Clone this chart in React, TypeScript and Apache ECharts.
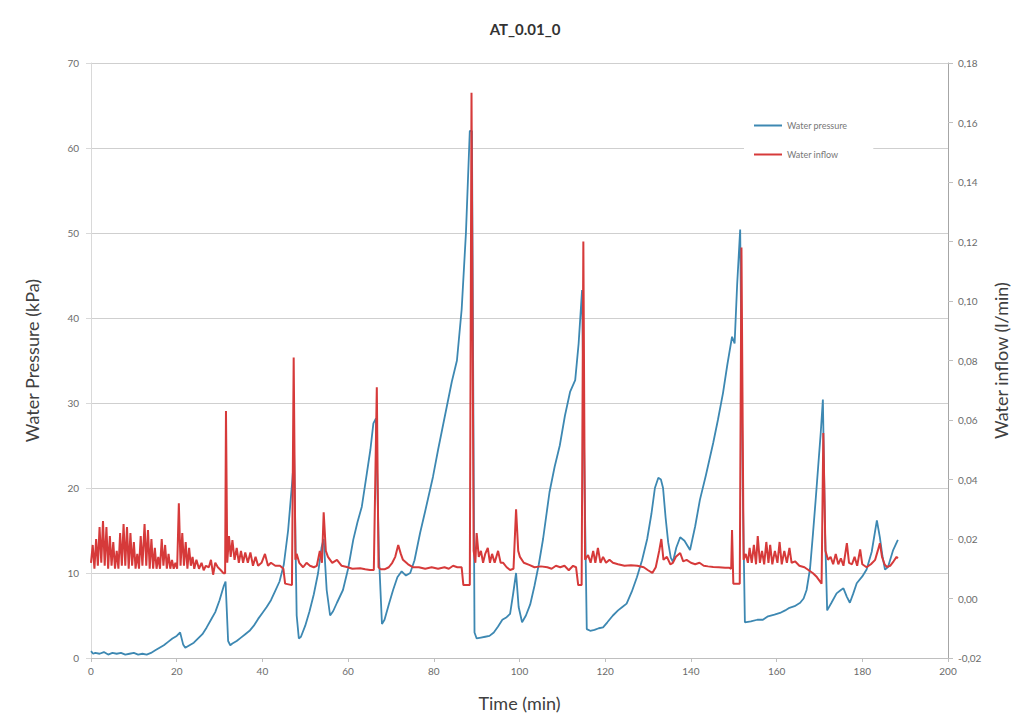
import React, { useEffect, useRef } from "react";
import * as echarts from "echarts";

const title = "AT_0.01_0";
const xTicks = { min: 0, max: 200, interval: 20 };
const seriesNames = ["Water pressure", "Water inflow"];

// Water pressure (kPa), left axis
const pressureTime = [
  0, 0.5, 1, 2, 3, 4, 5, 6, 7, 8, 9, 10, 11, 12, 13, 14, 15, 16, 17, 18, 19, 20, 20.8, 21.5, 22, 23, 24, 25, 26, 27, 28, 29, 30, 31, 31.4,
  32, 32.5, 33, 34, 35, 36, 37, 38, 39, 40, 41, 42, 43, 44, 45, 46, 47, 47.4, 48, 48.5, 49, 50, 51, 52, 53, 53.8, 54.3, 55, 55.8, 56.5,
  57.4, 58.8, 60, 61.2, 62.2, 63.2, 64.4, 65.2, 65.9, 66.5, 67.2, 67.9, 68.5, 69.5, 70.5, 71.5, 72.5, 73.5, 74.5, 75.5, 76.8, 78, 79.8,
  81, 82, 83, 84.2, 85.4, 86.5, 87.5, 88.4, 88.9, 89.5, 90, 91, 92, 93, 94, 95, 96, 97, 97.8, 98.5, 99.2, 99.8, 100.6, 101.5, 102.5,
  103.5, 104.5, 105.5, 107, 108.2, 109.4, 110.6, 111.8, 113, 113.8, 114.6, 115.2, 115.7, 116.5, 117.5, 118.5, 119.5, 120.5, 121.8, 123,
  124, 125, 126.2, 127.4, 128.6, 129.8, 130.8, 131.6, 132.4, 133, 133.5, 134.1, 134.7, 135.3, 135.8, 136.6, 137.5, 138.5, 139.8, 141,
  142.1, 143.5, 145.2, 146.3, 147.5, 148.5, 149.6, 150.2, 150.8, 151.5, 152.1, 152.6, 154, 155.5, 156.8, 158, 159.5, 160.8, 162, 163,
  164.2, 165.5, 166.3, 167, 167.8, 168.5, 169.1, 169.7, 170.3, 170.8, 171.3, 171.8, 172.8, 174, 175, 175.6, 176.4, 177.1, 177.9, 178.7,
  180, 181, 182.2, 183.4, 184.1, 184.7, 185.3, 186, 187.2, 188.3,
];
const pressureValues = [
  0.8, 0.5, 0.6, 0.5, 0.7, 0.4, 0.6, 0.5, 0.6, 0.4, 0.5, 0.6, 0.4, 0.5, 0.4, 0.6, 0.9, 1.2, 1.5, 1.9, 2.3, 2.6, 3.0, 1.6, 1.2, 1.5, 1.8,
  2.3, 2.8, 3.6, 4.5, 5.4, 6.8, 8.5, 9.0,
  2.0, 1.5, 1.7, 2.0, 2.4, 2.8, 3.2, 3.8, 4.6, 5.3, 6.0, 6.8, 7.9, 9.0, 11, 15, 21, 24, 5, 2.3, 2.5, 3.8, 5.5, 7.5, 10, 13, 14, 8, 5, 5.5,
  6.5, 8, 10.5, 13.9, 16, 17.8, 21.8, 24.5, 27.6, 28.2, 12, 4.0, 4.5, 6.3, 8, 9.5, 10.2, 9.7, 10.0, 11.5, 14.7, 17.3, 21.3,
  24.5, 27, 29.5, 32.5, 35, 41, 50, 62, 62, 3.0, 2.3, 2.4, 2.5, 2.6, 3.0, 3.7, 4.5, 4.8, 5.2, 7.5, 10, 6, 4.2, 5.0, 6.3,
  8.5, 11, 14, 19.5, 22.5, 25, 28.5, 31.3, 32.7, 37, 43.3, 20, 3.4, 3.2, 3.3, 3.5, 3.6, 4.2, 5.0, 5.6,
  6.0, 6.4, 7.8, 9.5, 11.5, 14, 17, 20, 21.2, 21, 20, 16.5, 13.6, 11.8, 11.3, 13, 14.2, 13.8, 12.7, 15.5,
  18.6, 21.5, 25.3, 28, 31.2, 34.5, 37.8, 37, 44, 50.4, 20, 4.2, 4.3, 4.5, 4.5, 4.9, 5.1, 5.3, 5.6, 5.9,
  6.1, 6.5, 7.0, 8.0, 10.5, 14.7, 18.5, 22.5, 26.5, 30.4, 15, 5.6, 6.5, 7.6, 8.0, 8.2, 7.2, 6.5, 7.6, 8.8,
  9.6, 10.4, 12.5, 16.2, 14.2, 12, 10.4, 10.7, 12.7, 13.9,
];

// Water inflow (l/min), right axis
const inflowTime = [
  0, 0.4, 0.8, 1.2, 1.6, 2.0, 2.4, 2.8, 3.2, 3.6, 4.0, 4.4, 4.8, 5.2, 5.6, 6.0, 6.4, 6.8, 7.2, 7.6, 8.0, 8.4, 8.8, 9.2, 9.6, 10.0, 10.4,
  10.8, 11.2, 11.6, 12.0, 12.5, 12.9, 13.3, 13.7, 14.1, 14.5, 14.9, 15.3, 15.7, 16.1, 16.5, 16.9, 17.3, 17.7, 18.1, 18.5, 18.9, 19.3,
  19.7, 20.1, 20.5, 20.9, 21.3, 21.7, 22.1, 22.5, 22.9, 23.3, 23.7, 24.1, 24.6, 25.2, 25.8, 26.3, 26.8, 27.5, 28, 28.5, 29, 29.6, 30.3,
  30.9, 31.3, 31.5, 31.8, 32.2, 32.6, 33, 33.5, 34, 34.5, 35, 35.5, 36, 36.6, 37.2, 37.8, 38.4, 39, 39.8, 40.6, 41.3, 42, 43, 44.1, 44.9,
  45.3, 46.9, 47.3, 47.7, 48, 48.6, 49.5, 50.3, 51.1, 52, 52.7, 53.4, 53.9, 54.3, 54.8, 55.3, 56.3, 57.4, 58.5, 59.7, 61, 62.8, 64,
  65.1, 66, 66.7, 67.1, 67.6, 68.5, 69.5, 70.3, 71, 71.7, 72.3, 72.8, 74, 75.2, 76.5, 78, 79.5, 81, 82.5, 83.5, 84.5, 85.5, 86.5, 86.9,
  88.4, 88.8, 89.3, 89.7, 90, 90.5, 91, 91.5, 92, 92.6, 93.1, 93.6, 94.2, 95, 95.6, 96.2, 97, 97.8, 98.6, 99.2, 99.7, 100.1, 101, 102.4,
  103.5, 105, 106.5, 107.5, 108.5, 109.5, 110.5, 111.5, 112.5, 113.2, 113.7, 114.5, 114.9, 115.3, 116, 116.6, 117.2, 117.7, 118.3,
  118.9, 119.5, 120.2, 121, 121.8, 123, 124.5, 126, 127.5, 129, 130, 131, 131.8, 132.6, 133.1, 133.6, 134.4, 135.2, 135.8, 136.5,
  137.5, 138.2, 139, 140, 141, 142, 143, 144, 145.2, 146.5, 148, 149, 149.4, 149.6, 149.9, 151.4, 151.8, 152.3, 152.8, 153.3, 153.7,
  154.2, 154.7, 155.2, 155.6, 156.1, 156.6, 157.1, 157.6, 158.1, 158.5, 159, 159.6, 160.2, 160.7, 161.2, 161.8, 162.4, 163, 163.5,
  164.3, 165.3, 166.5, 167.5, 168.5, 169.4, 170.5, 170.9, 171.4, 172, 172.6, 173.2, 173.8, 174.4, 175, 175.6, 176.4, 176.9, 177.6,
  178.2, 178.8, 179.5, 180, 181, 182, 183, 183.6, 184.1, 184.6, 185.2, 185.7, 186.5, 187.3, 188, 188.3,
];
const inflowValues = [
  0.012, 0.018, 0.010, 0.020, 0.011, 0.024, 0.012, 0.026, 0.011, 0.024, 0.010, 0.021, 0.011, 0.019, 0.010, 0.016, 0.010, 0.022, 0.011,
  0.025, 0.011, 0.024, 0.010, 0.022, 0.011, 0.019, 0.010, 0.015, 0.010, 0.021, 0.011, 0.025, 0.011, 0.023, 0.010, 0.020, 0.010, 0.017,
  0.010, 0.014, 0.010, 0.020, 0.011, 0.018, 0.010, 0.015, 0.010, 0.013, 0.010, 0.012, 0.010, 0.032, 0.011, 0.022, 0.011, 0.019, 0.010,
  0.017, 0.011, 0.014, 0.010, 0.013, 0.010, 0.012, 0.0095, 0.011, 0.0105, 0.013, 0.008, 0.012, 0.0105, 0.0095, 0.0085, 0.0085, 0.063,
  0.012, 0.021, 0.014, 0.0196, 0.013, 0.017, 0.012, 0.016, 0.012, 0.0155, 0.012, 0.0155, 0.011, 0.014, 0.011, 0.012, 0.015, 0.011,
  0.012, 0.011, 0.011, 0.010, 0.005, 0.0045, 0.081, 0.013, 0.015, 0.012, 0.0105, 0.012, 0.011, 0.0105, 0.011, 0.016, 0.012, 0.029,
  0.016, 0.014, 0.012, 0.013, 0.011, 0.0106, 0.010, 0.0102, 0.0098, 0.0096, 0.0096, 0.071, 0.0105, 0.0098, 0.0098, 0.0105, 0.012,
  0.014, 0.018, 0.015, 0.013, 0.0115, 0.0105, 0.0105, 0.010, 0.0105, 0.0100, 0.0105, 0.0100, 0.011, 0.0105, 0.0105, 0.0045, 0.0045,
  0.17, 0.016, 0.012, 0.022, 0.014, 0.016, 0.012, 0.015, 0.017, 0.012, 0.015, 0.012, 0.016, 0.012, 0.012, 0.0105, 0.0096, 0.010,
  0.030, 0.016, 0.014, 0.012, 0.0112, 0.0105, 0.0108, 0.0105, 0.0100, 0.011, 0.0105, 0.011, 0.0095, 0.011, 0.0105, 0.0045, 0.0045,
  0.120, 0.013, 0.0146, 0.012, 0.016, 0.012, 0.017, 0.012, 0.014, 0.012, 0.013, 0.012, 0.0115, 0.011, 0.0112, 0.011, 0.0105, 0.0095,
  0.0086, 0.0105, 0.016, 0.020, 0.013, 0.014, 0.0115, 0.012, 0.014, 0.0153, 0.0125, 0.013, 0.012, 0.0115, 0.012, 0.011, 0.0108,
  0.0106, 0.0105, 0.0103, 0.0103, 0.010, 0.023, 0.005, 0.005, 0.118, 0.013, 0.015, 0.012, 0.017, 0.012, 0.018, 0.0115, 0.021, 0.012,
  0.016, 0.0115, 0.019, 0.012, 0.018, 0.0115, 0.016, 0.012, 0.019, 0.0115, 0.016, 0.012, 0.017, 0.012, 0.0125, 0.011, 0.0105, 0.0095,
  0.0085, 0.0072, 0.005, 0.0556, 0.016, 0.013, 0.014, 0.0115, 0.015, 0.0115, 0.0135, 0.011, 0.0186, 0.012, 0.0115, 0.014, 0.011,
  0.0165, 0.0115, 0.0105, 0.0115, 0.013, 0.016, 0.0186, 0.014, 0.0115, 0.0106, 0.011, 0.0125, 0.014, 0.0135,
];

const pressureAxis = { min: 0, max: 70, interval: 10 };
const inflowAxis = { min: -0.02, max: 0.18, interval: 0.02 };

const FONT = "Lato, 'Open Sans', sans-serif";
const BLUE = "#3d88b2";
const RED = "#d63a3a";

export default function App() {
  const ref = useRef<HTMLDivElement>(null);
  useEffect(() => {
    if (!ref.current) return;
    const chart = echarts.init(ref.current, undefined, { renderer: "svg" });
    const pressureData = pressureTime.map((t, i) => [t, pressureValues[i]]);
    const inflowData = inflowTime.map((t, i) => [t, inflowValues[i]]);
    const labelStyle = { color: "#6b6b6b", fontSize: 10, fontFamily: FONT };
    chart.setOption({
      animation: false,
      backgroundColor: "#ffffff",
      title: {
        text: title,
        left: 520,
        textAlign: "center",
        top: 16,
        textStyle: { fontSize: 15, fontWeight: "bold", color: "#333", fontFamily: FONT },
      },
      legend: {
        orient: "vertical",
        left: 744,
        top: 113,
        icon: "rect",
        itemWidth: 28,
        itemHeight: 2,
        itemGap: 20,
        backgroundColor: "#ffffff",
        padding: [8, 26, 10, 10],
        textStyle: { fontSize: 9, color: "#777", fontFamily: FONT },
        data: seriesNames,
      },
      grid: { left: 91, right: 87, top: 63, bottom: 68 },
      xAxis: {
        type: "value",
        min: xTicks.min,
        max: xTicks.max,
        interval: xTicks.interval,
        name: "Time (min)",
        nameLocation: "middle",
        nameGap: 36,
        nameTextStyle: { fontSize: 18, color: "#404040", fontFamily: FONT },
        axisLine: { show: true, lineStyle: { color: "#bfbfbf" } },
        axisTick: { show: true, length: 4, lineStyle: { color: "#bfbfbf" } },
        axisLabel: { ...labelStyle, margin: 8 },
        splitLine: { show: false },
      },
      yAxis: [
        {
          type: "value",
          min: pressureAxis.min,
          max: pressureAxis.max,
          interval: pressureAxis.interval,
          name: "Water Pressure (kPa)",
          nameLocation: "middle",
          nameGap: 50,
          nameTextStyle: { fontSize: 18, color: "#404040", fontFamily: FONT },
          axisLine: { show: true, lineStyle: { color: "#d9d9d9" } },
          axisTick: { show: true, length: 5, lineStyle: { color: "#d9d9d9" } },
          axisLabel: { ...labelStyle, margin: 12 },
          splitLine: { show: true, lineStyle: { color: "#cfcfcf", width: 1 } },
        },
        {
          type: "value",
          min: inflowAxis.min,
          max: inflowAxis.max,
          interval: inflowAxis.interval,
          position: "right",
          name: "Water inflow (l/min)",
          nameLocation: "middle",
          nameRotate: 90,
          nameGap: 44,
          nameTextStyle: { fontSize: 18, color: "#404040", fontFamily: FONT },
          axisLine: { show: true, lineStyle: { color: "#a6a6a6" } },
          axisTick: { show: true, length: 5, lineStyle: { color: "#bfbfbf" } },
          axisLabel: {
            ...labelStyle,
            margin: 10,
            formatter: (v: number) => v.toFixed(2).replace(".", ","),
          },
          splitLine: { show: false },
        },
      ],
      series: [
        {
          name: seriesNames[0],
          type: "line",
          yAxisIndex: 0,
          data: pressureData,
          symbol: "none",
          lineStyle: { color: BLUE, width: 1.8 },
          itemStyle: { color: BLUE },
        },
        {
          name: seriesNames[1],
          type: "line",
          yAxisIndex: 1,
          data: inflowData,
          symbol: "none",
          lineStyle: { color: RED, width: 2 },
          itemStyle: { color: RED },
        },
      ],
    });
    return () => chart.dispose();
  }, []);
  return <div ref={ref} style={{ width: 1035, height: 726, margin: -8 }} />;
}
